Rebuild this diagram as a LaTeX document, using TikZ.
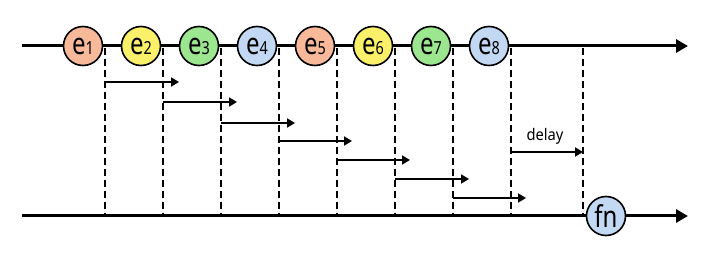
\documentclass[tikz,border=0pt]{standalone}
\usepackage{fontspec}
\setmainfont{Noto Sans}
\newfontfamily\nodefont[FakeStretch=0.8]{Noto Sans}
\newfontfamily\labelfont[FakeStretch=0.92]{Noto Sans}
\usetikzlibrary{arrows.meta}
\definecolor{cSalmon}{HTML}{F8B89A}
\definecolor{cYellow}{HTML}{FBF06A}
\definecolor{cGreen}{HTML}{9BE68E}
\definecolor{cBlue}{HTML}{C3D8F2}
\tikzset{
  ev/.style={circle,draw=black,text=black,line width=1.6pt,minimum size=39pt,inner sep=0pt},
  mainline/.style={line width=3pt,-{Triangle[length=12pt,width=13pt]}},
  dline/.style={line width=1.8pt,dash pattern=on 7pt off 4pt},
  sarrow/.style={line width=1.8pt,-{Triangle[length=8pt,width=9pt]}},
}
\newcommand{\evlabel}[1]{{\nodefont\fontsize{30}{30}\selectfont e\fontsize{18}{18}\selectfont #1}}
\begin{document}
\begin{tikzpicture}[x=1pt,y=-1pt]
\useasboundingbox (0,0) rectangle (712,264);
% axes
\coordinate (tl) at (22,46);
\coordinate (tr) at (688,46);
\coordinate (bl) at (22,216);
\coordinate (br) at (688,216);
\draw[mainline] (tl) -- (tr);
\draw[mainline] (bl) -- (br);
% dashed lines
\foreach \i/\x in {1/105,2/163,3/221,4/279,5/337,6/395,7/453,8/511,9/583}{
  \coordinate (dt\i) at (\x,48);
  \coordinate (db\i) at (\x,216);
  \draw[dline] (dt\i) -- (db\i);
}
% small arrows
\foreach \i/\x/\y/\t in {1/105/82/179,2/163/102/237,3/221/123/295,4/279/141/352,5/337/160/410,6/395/179/469,7/453/198/526}{
  \coordinate (as\i) at (\x,\y);
  \coordinate (ae\i) at (\t,\y);
  \draw[sarrow] (as\i) -- (ae\i);
}
\coordinate (ds) at (511,152);
\coordinate (de) at (583,152);
\draw[sarrow] (ds) -- (de);
\node[text=black,font=\labelfont\fontsize{16}{16}\selectfont] (delay) at (545,136) {delay};
% event circles
\node[ev,fill=cSalmon] (e1) at (83,46) {\evlabel{1}};
\node[ev,fill=cYellow] (e2) at (141,46) {\evlabel{2}};
\node[ev,fill=cGreen] (e3) at (199,46) {\evlabel{3}};
\node[ev,fill=cBlue] (e4) at (257,46) {\evlabel{4}};
\node[ev,fill=cSalmon] (e5) at (315,46) {\evlabel{5}};
\node[ev,fill=cYellow] (e6) at (373,46) {\evlabel{6}};
\node[ev,fill=cGreen] (e7) at (431,46) {\evlabel{7}};
\node[ev,fill=cBlue] (e8) at (489,46) {\evlabel{8}};
\node[ev,fill=cBlue] (fn) at (606,216) {\nodefont\fontsize{30}{30}\selectfont fn};
\end{tikzpicture}
\end{document}
